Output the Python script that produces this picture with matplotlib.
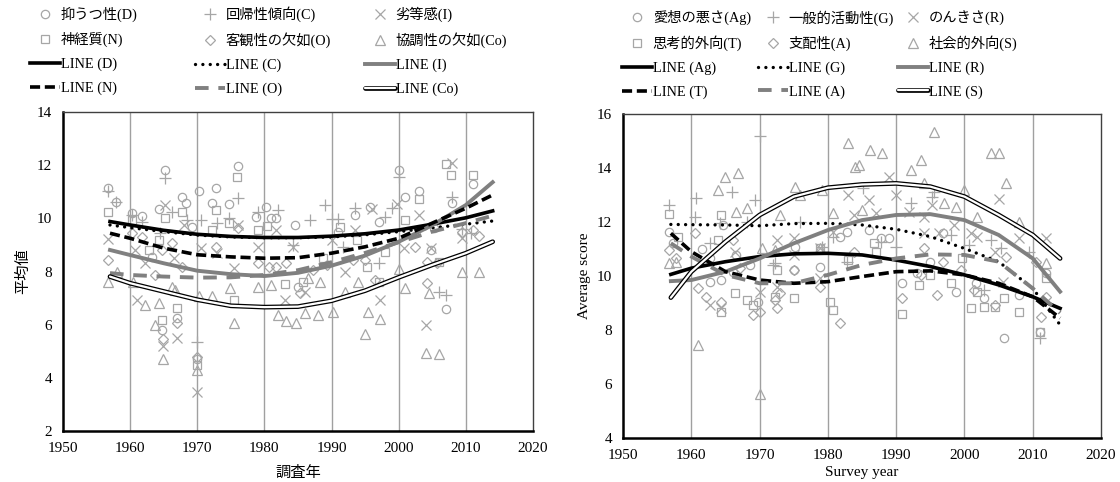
import numpy as np
import matplotlib
matplotlib.use('Agg')
import matplotlib.pyplot as plt

plt.rcParams['font.family'] = ['Liberation Serif', 'Noto Sans CJK JP']
plt.rcParams['font.size'] = 11

# ---------------- left panel data (Japanese labels) ----------------
left_D_x = [1956.75, 1965.25, 1957.85, 1976, 1967.75, 1968.25, 1972.25, 1972.75, 1970.25, 1974.75, 1964.35, 1961.75,
            1960.25, 1980.25, 1981, 1981.75, 1984.5, 1978.75, 1995.75, 1993.5, 1997, 2000, 2001, 2003, 2008, 2011,
            2007, 1964.75, 1967, 1970, 1963.25, 1985, 1991, 2004.75, 2005.25, 1969.25]
left_D_y = [11.13, 11.8, 10.6, 11.97, 10.82, 10.57, 10.57, 11.13, 11.04, 10.53, 10.34, 10.07,
            10.2, 10.44, 10.0, 10.0, 9.75, 10.06, 10.42, 10.13, 9.88, 11.8, 10.82, 11.04, 10.57, 11.28,
            6.58, 5.8, 6.24, 4.7, 8.56, 7.43, 9.5, 8.81, 9.63, 9.69]

left_C_x = [1956.75, 1965.25, 1957.85, 1976, 1961.75, 1960.25, 1966.25, 1970.5, 1973, 1974.75, 1979, 1982,
            1986.75, 1989, 1990, 1991, 1993.5, 1998, 1999, 2000, 2008, 2009.5, 2007, 2006, 1970, 1984.25,
            1997, 1964.5, 1968.5, 1991.75, 2010.75]
left_C_y = [11.04, 11.5, 10.6, 10.75, 9.88, 10.13, 10.25, 9.94, 9.84, 10.0, 10.25, 10.31,
            9.94, 10.5, 9.98, 9.96, 10.38, 10.06, 10.38, 11.57, 10.79, 9.59, 7.12, 7.24, 5.33, 9.0,
            8.31, 9.44, 9.94, 8.94, 9.44]

left_I_x = [1956.75, 1965.25, 1968, 1976, 1970.5, 1975.5, 1979, 1981.75, 1984.25, 1990, 1993.5, 1996,
            1999.75, 2003, 2008, 2009.5, 2004, 1964.9, 1967, 1970, 1966.5, 1960.75, 1962.25, 1973,
            1992, 1997.25, 2000.75, 2004.75, 1983, 1961, 1986]
left_I_y = [9.21, 10.5, 9.75, 9.75, 8.87, 8.12, 8.94, 9.56, 8.94, 9.19, 9.56, 10.34,
            10.53, 10.13, 12.07, 9.25, 5.97, 5.2, 5.49, 3.45, 8.5, 8.81, 8.31, 8.68,
            8.0, 6.93, 8.87, 8.87, 6.93, 6.93, 7.24]

left_N_x = [1956.75, 1960.25, 1965.25, 1967.75, 1972.75, 1975.9, 1974.75, 1979, 1980.35, 1972.25, 1962.75,
            1964.75, 1967, 1970, 1975.5, 1983, 1985.75, 1997, 1995.25, 2001, 2003, 2007, 2007.85, 2011,
            2006, 1993.75, 1998, 1991.25, 1964.25, 1988.75]
left_N_y = [10.22, 9.94, 10.0, 10.25, 10.31, 11.57, 9.84, 9.56, 9.71, 9.56, 8.81,
            6.18, 6.62, 4.49, 6.93, 7.52, 7.62, 7.62, 8.18, 9.94, 10.72, 12.04, 11.63, 11.63,
            8.37, 9.19, 8.75, 9.69, 9.19, 8.5]

left_O_x = [1956.75, 1960.25, 1963.75, 1967, 1964.9, 1970, 1966.25, 1972.75, 1976, 1979, 1980.75, 1981.75,
            1983.25, 1987.25, 1989.25, 1993.25, 1995, 1996.5, 2002.5, 2004.25, 2005.75, 2009.5, 2012,
            2011, 1964.75, 1967.75, 1961.75, 1985.25, 2004.25]
left_O_y = [8.44, 9.44, 7.87, 6.05, 5.45, 4.8, 9.06, 8.94, 9.63, 8.31, 8.18, 8.18,
            8.31, 8.06, 8.25, 8.44, 8.44, 7.68, 8.94, 8.37, 8.31, 9.5, 9.34,
            9.56, 8.81, 8.18, 9.31, 7.18, 7.56]

left_Co_x = [1956.75, 1958, 1962.25, 1964.25, 1963.75, 1964.9, 1970, 1966.25, 1970.25, 1972.25, 1975.5,
             1974.9, 1979, 1981, 1982, 1983.25, 1984.75, 1986, 1988, 1990.25, 1992, 1994, 1995, 1995.4,
             1997.15, 2000, 2000.9, 2004.5, 2004, 2006, 2009.5, 2012, 1986.5, 1988.25, 1966.75, 1960.5]
left_Co_y = [7.62, 8.0, 6.74, 6.83, 5.99, 4.7, 4.3, 7.43, 7.06, 7.06, 6.05,
             7.37, 7.43, 7.5, 6.37, 6.12, 6.08, 6.43, 6.37, 6.49, 7.24, 7.62, 5.64, 6.46,
             6.2, 8.09, 7.37, 7.18, 4.93, 4.89, 7.97, 7.97, 7.75, 7.62, 7.31, 7.62]

# trend line readings
line_years = [1957, 1960, 1965, 1970, 1975, 1980, 1985, 1990, 1995, 2000, 2005, 2010, 2014]
left_line_D = [9.88, 9.75, 9.55, 9.4, 9.32, 9.28, 9.28, 9.33, 9.42, 9.56, 9.78, 10.02, 10.28]
left_line_C = [9.75, 9.65, 9.5, 9.37, 9.3, 9.27, 9.27, 9.3, 9.38, 9.5, 9.64, 9.78, 9.9]
left_line_I = [8.81, 8.62, 8.31, 8.03, 7.9, 7.83, 7.95, 8.22, 8.6, 9.12, 9.74, 10.5, 11.36]
left_line_N = [9.44, 9.25, 8.88, 8.63, 8.55, 8.5, 8.52, 8.69, 8.93, 9.25, 9.82, 10.38, 10.88]
left_line_O = [7.94, 7.87, 7.81, 7.77, 7.78, 7.87, 8.05, 8.35, 8.7, 9.1, 9.5, 9.82, 10.1]
left_line_Co = [7.81, 7.56, 7.25, 6.94, 6.71, 6.66, 6.68, 6.9, 7.28, 7.78, 8.25, 8.69, 9.12]

left_scatter_labels = ['抑うつ性(D)', '回帰性傾向(C)', '劣等感(I)', '神経質(N)', '客観性の欠如(O)', '協調性の欠如(Co)']
left_line_labels = ['LINE (D)', 'LINE (C)', 'LINE (I)', 'LINE (N)', 'LINE (O)', 'LINE (Co)']

# ---------------- right panel data (English labels) ----------------
right_Ag_x = [1956.8, 1957.3, 1961.5, 1962.7, 1964.4, 1966.6, 1968.6, 1969.8, 1975, 1978.9, 1981.8, 1982.8,
              1986, 1987.7, 1988.9, 1990.9, 1993.1, 1995, 1996.8, 1998.7, 2002.9, 2005.8, 2011, 2012,
              2008, 1966.1, 1975.2, 1964.7, 2001.7, 1962.7]
right_Ag_y = [11.64, 11.21, 11.0, 9.79, 9.85, 10.78, 10.41, 9.05, 10.22, 10.35, 11.46, 11.64,
              11.7, 11.4, 11.4, 9.73, 10.1, 10.53, 11.58, 9.42, 9.17, 7.69, 7.94, 10.1,
              9.3, 10.16, 11.09, 11.89, 9.73, 10.65]

right_G_x = [1956.8, 1960.7, 1965.9, 1969.3, 1970, 1960.5, 1964.2, 1968.1, 1975.9, 1979.1, 1982.8, 1985.2,
             1989.9, 1992.1, 1995.3, 1998, 2000.7, 2003.9, 2009.5, 2011, 1972, 1987.7, 1995.6, 2002.9,
             1972.3, 1980.8, 2005.3, 1962.7]
right_G_y = [12.63, 12.88, 13.12, 12.81, 15.2, 12.2, 11.95, 12.01, 12.01, 11.09, 10.53, 13.25,
             11.09, 12.69, 12.94, 11.52, 11.15, 11.33, 10.9, 7.69, 10.41, 11.27, 13.12, 9.48,
             10.47, 11.46, 11.02, 11.21]

right_R_x = [1962.7, 1964.4, 1970, 1972.5, 1975, 1978.9, 1980.8, 1983, 1983.8, 1986, 1987, 1988.9,
             1989.9, 1991.9, 1994.1, 1995.3, 1996.3, 1998.5, 2000.9, 2001.9, 2005.1, 2005.6, 2008, 2012,
             1966.4, 1975, 1978.9, 1994.1, 2004.4, 1972.5]
right_R_y = [8.93, 8.8, 9.42, 9.6, 11.4, 11.02, 11.64, 12.99, 12.26, 12.81, 12.32, 13.68,
             12.99, 12.38, 12.2, 12.63, 11.58, 11.89, 11.58, 11.46, 12.87, 9.79, 11.4, 11.4,
             10.9, 10.78, 9.91, 11.58, 10.9, 11.33]

right_T_x = [1956.8, 1958, 1963.9, 1964.4, 1966.4, 1968.1, 1969, 1972.3, 1975, 1978.9, 1980.3, 1980.8,
             1983, 1986.7, 1987, 1990.9, 1993.3, 1995, 1998, 1999.7, 2000.9, 2002.9, 2004.4, 2005.8,
             2008, 2011, 2012, 2001.9, 1972.5, 1964.4]
right_T_y = [12.28, 11.46, 11.33, 8.68, 9.36, 9.11, 8.93, 9.23, 9.17, 11.02, 9.05, 8.74,
             10.59, 11.21, 10.9, 8.58, 9.67, 10.04, 9.73, 10.65, 8.8, 8.86, 8.86, 9.17,
             8.68, 7.94, 9.91, 9.42, 10.22, 12.26]

right_A_x = [1956.8, 1957.8, 1961, 1962.2, 1964.4, 1969, 1970, 1972.5, 1973, 1975, 1978.9, 1981.8,
             1983.8, 1990.9, 1993.6, 1994.1, 1996, 1996.8, 2001.4, 2004.4, 2006.1, 2010.5, 2011.2, 2012,
             1966.1, 1967.1, 1960.5, 1972.3, 1999.5]
right_A_y = [10.96, 10.65, 9.54, 9.23, 9.05, 8.55, 8.68, 8.8, 9.36, 10.22, 9.6, 8.25,
             10.9, 9.2, 10.04, 11.02, 9.3, 10.53, 9.48, 8.93, 10.72, 10.53, 8.49, 9.23,
             11.33, 10.28, 11.58, 9.11, 10.22]

right_S_x = [1956.8, 1957.8, 1961, 1963.9, 1964.9, 1966.9, 1966.6, 1968.1, 1970, 1973, 1975.2, 1975.9,
             1979.1, 1980.8, 1983, 1984, 1984.5, 1985, 1986.2, 1987.9, 1992.1, 1993.6, 1994.1, 1995.6,
             1997, 1998.7, 2000, 2001.9, 2003.9, 2005.1, 2006.1, 2008, 2012, 1972.3, 1978.9, 1970.3]
right_S_y = [10.47, 10.53, 7.44, 13.18, 13.68, 13.8, 12.38, 12.51, 5.62, 12.26, 13.31, 13.0,
             13.18, 12.32, 14.91, 14.05, 14.11, 12.44, 14.67, 14.54, 13.93, 14.3, 13.43, 15.35,
             12.69, 12.57, 13.18, 12.2, 14.54, 14.54, 13.43, 12.01, 10.47, 10.96, 11.02, 11.02]

right_line_Ag = [10.06, 10.29, 10.53, 10.72, 10.82, 10.84, 10.78, 10.59, 10.35, 10.04, 9.67, 9.23, 8.8]
right_line_G = [11.91, 11.9, 11.89, 11.86, 11.94, 11.95, 11.89, 11.73, 11.46, 11.02, 10.53, 9.54, 8.19]
right_line_R = [9.81, 9.85, 10.16, 10.65, 11.21, 11.7, 12.07, 12.26, 12.29, 12.07, 11.52, 10.65, 9.42]
right_line_T = [11.58, 10.9, 10.16, 9.85, 9.73, 9.79, 9.98, 10.16, 10.19, 10.04, 9.73, 9.23, 8.44]
right_line_A = [11.21, 10.72, 10.04, 9.73, 9.73, 10.04, 10.41, 10.65, 10.8, 10.78, 10.53, 9.54, 8.63]
right_line_S = [9.2, 10.16, 11.27, 12.26, 12.94, 13.27, 13.39, 13.43, 13.31, 12.94, 12.26, 11.52, 10.65]

right_scatter_labels = ['愛想の悪さ(Ag)', '一般的活動性(G)', 'のんきさ(R)', '思考的外向(T)', '支配性(A)', '社会的外向(S)']
right_line_labels = ['LINE (Ag)', 'LINE (G)', 'LINE (R)', 'LINE (T)', 'LINE (A)', 'LINE (S)']

# styles
pt_gray = '#a6a6a6'
ln_gray = '#808080'
markers = ['o', '+', 'x', 's', 'D', '^']
msizes = [6, 8, 7, 6, 5, 6.5]

fig = plt.figure(figsize=(11.2, 4.82), dpi=100)


def draw_panel(ax, scatters, lines, s_labels, l_labels, ylim, yticks, xlabel, ylabel, col_x, leg_top,
               xlabelpad, ylabelpad):
    s_handles = []
    for (xs, ys), m, ms in zip(scatters, markers, msizes):
        h, = ax.plot(xs, ys, linestyle='none', marker=m, ms=ms, mfc='none', mec=pt_gray, mew=0.9, zorder=2)
        s_handles.append(h)

    l_handles = []
    h, = ax.plot(line_years, lines[0], color='black', lw=2.6, zorder=4)
    l_handles.append(h)
    h, = ax.plot(line_years, lines[1], color='black', lw=2.4, linestyle=(0, (0.01, 2.2)),
                 dash_capstyle='round', zorder=4)
    l_handles.append(h)
    h, = ax.plot(line_years, lines[2], color=ln_gray, lw=2.8, zorder=4)
    l_handles.append(h)
    h, = ax.plot(line_years, lines[3], color='black', lw=2.6, linestyle=(0, (2.8, 1.3)), zorder=4)
    l_handles.append(h)
    h, = ax.plot(line_years, lines[4], color=ln_gray, lw=2.8, linestyle=(0, (3.5, 2.5)), zorder=4)
    l_handles.append(h)
    h1, = ax.plot(line_years, lines[5], color='black', lw=3.4, zorder=4, solid_capstyle='round')
    h2, = ax.plot(line_years, lines[5], color='white', lw=1.6, zorder=5, solid_capstyle='round')
    l_handles.append((h1, h2))

    ax.set_xlim(1950, 2020)
    ax.set_ylim(*ylim)
    ax.set_xticks(range(1950, 2021, 10))
    ax.set_yticks(yticks)
    ax.tick_params(length=0, labelsize=11, pad=8)
    for xg in range(1960, 2020, 10):
        ax.axvline(xg, color='#a0a0a0', lw=1.0, zorder=1)
    for side in ['left', 'bottom']:
        ax.spines[side].set_linewidth(1.8)
        ax.spines[side].set_color('black')
    for side in ['top', 'right']:
        ax.spines[side].set_linewidth(1.0)
        ax.spines[side].set_color('#404040')
    ax.set_xlabel(xlabel, fontsize=11, labelpad=xlabelpad)
    ax.set_ylabel(ylabel, fontsize=11, labelpad=ylabelpad)

    # one legend per column so the columns sit at fixed positions like the original
    for c in range(3):
        hs = [s_handles[c], s_handles[c + 3], l_handles[c], l_handles[c + 3]]
        labs = [s_labels[c], s_labels[c + 3], l_labels[c], l_labels[c + 3]]
        leg = ax.legend(hs, labs, loc='upper left', bbox_to_anchor=(col_x[c] / 1120, leg_top),
                        bbox_transform=fig.transFigure, frameon=False, numpoints=1,
                        handlelength=2.1, handletextpad=0.05, labelspacing=0.72,
                        borderpad=0, borderaxespad=0, fontsize=10.3)
        if c < 2:
            ax.add_artist(leg)


ax1 = fig.add_axes([0.05625, 0.1058, 0.4196, 0.6618])
ax2 = fig.add_axes([0.5563, 0.0913, 0.4268, 0.6722])

draw_panel(ax1,
           [(left_D_x, left_D_y), (left_C_x, left_C_y), (left_I_x, left_I_y),
            (left_N_x, left_N_y), (left_O_x, left_O_y), (left_Co_x, left_Co_y)],
           [left_line_D, left_line_C, left_line_I, left_line_N, left_line_O, left_line_Co],
           left_scatter_labels, left_line_labels, (2, 14), range(2, 15, 2), '調査年', '平均値',
           [30, 195, 365], 0.986, 8, 5)

draw_panel(ax2,
           [(right_Ag_x, right_Ag_y), (right_G_x, right_G_y), (right_R_x, right_R_y),
            (right_T_x, right_T_y), (right_A_x, right_A_y), (right_S_x, right_S_y)],
           [right_line_Ag, right_line_G, right_line_R, right_line_T, right_line_A, right_line_S],
           right_scatter_labels, right_line_labels, (4, 16), range(4, 17, 2), 'Survey year', 'Average score',
           [622, 758, 898], 0.979, 3, 4)

fig.savefig('out.png', dpi=100)
